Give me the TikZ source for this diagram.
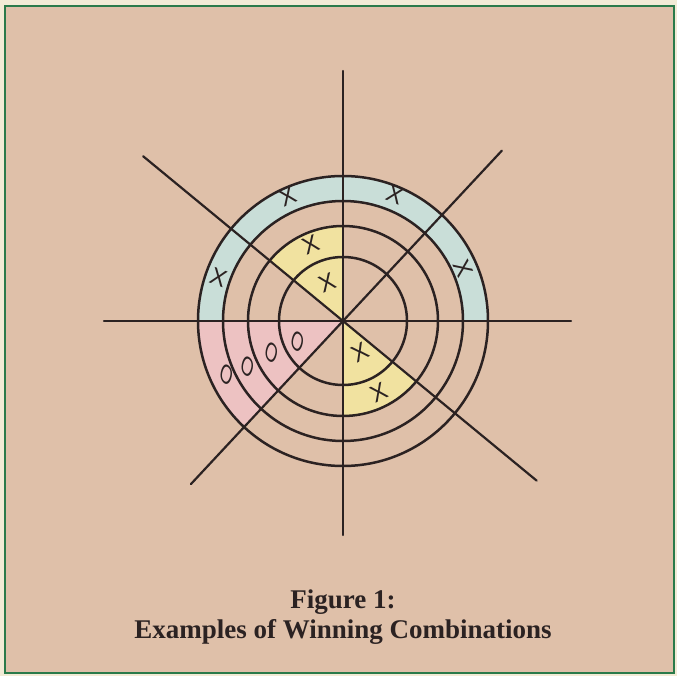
\documentclass[tikz,border=0pt]{standalone}
\usepackage{fontspec}
\setmainfont{Liberation Serif}
\newfontfamily\markfont{Liberation Sans}
\usetikzlibrary{positioning}
\definecolor{boardtan}{HTML}{DFC0A9}
\definecolor{framegreen}{HTML}{2A7A4A}
\definecolor{papercream}{HTML}{F2EBD6}
\definecolor{ringblue}{HTML}{C9DED8}
\definecolor{winyellow}{HTML}{F1E2A0}
\definecolor{winpink}{HTML}{EDC2C2}
\definecolor{inkdark}{HTML}{2B2222}

\begin{document}
\begin{tikzpicture}[
    x=1pt, y=1pt,
    ring/.style={draw=inkdark, line width=2.5pt},
    spoke/.style={draw=inkdark, line width=2.2pt, line cap=round},
    xmark/.style={font=\markfont\fontsize{24}{24}\selectfont, text=inkdark,
                  inner sep=0pt, rotate=#1},
    omark/.style={font=\markfont\fontsize{27}{27}\selectfont, text=inkdark,
                  inner sep=0pt, xscale=0.6, rotate=-30},
    caption/.style={font=\bfseries\fontsize{27}{31}\selectfont, text=inkdark,
                    anchor=base},
  ]
  \fill[papercream] (-343,-355) rectangle (334,321);
  \useasboundingbox (-343,-355) rectangle (334,321);
  \draw[framegreen, line width=2.5pt, fill=boardtan] (-338,315) rectangle (331,-352);

  \coordinate (c) at (0,0);

  % winning cells
  \fill[ringblue] (0:145) arc[start angle=0, end angle=180, radius=145]
    -- (180:120) arc[start angle=180, end angle=0, radius=120] -- cycle;
  \fill[winyellow] (c) -- (90:95) arc[start angle=90, end angle=140.5, radius=95] -- cycle;
  \fill[winyellow] (c) -- (270:95) arc[start angle=270, end angle=320.5, radius=95] -- cycle;
  \fill[winpink] (c) -- (180:145) arc[start angle=180, end angle=227, radius=145] -- cycle;

  \foreach \r in {64, 95, 120, 145}
    \draw[ring] (c) circle[radius=\r];

  % spokes
  \coordinate (n)  at (90:250);
  \coordinate (s)  at (270:214);
  \coordinate (w)  at (180:239);
  \coordinate (e)  at (0:228);
  \coordinate (ne) at (47:233);
  \coordinate (sw) at (227:223);
  \coordinate (nw) at (140.5:259);
  \coordinate (se) at (320.5:251);
  \draw[spoke] (n) -- (s);
  \draw[spoke] (w) -- (e);
  \draw[spoke] (ne) -- (sw);
  \draw[spoke] (nw) -- (se);

  % marks
  \node[xmark=24]  (xb1) at (114:136)  {X};
  \node[xmark=-22] (xb2) at (67.6:136) {X};
  \node[xmark=-20] (xb3) at (160.6:132) {X};
  \node[xmark=-66] (xb4) at (23.8:131) {X};
  \node[xmark=23]  (xu1) at (113:83)   {X};
  \node[xmark=23]  (xu2) at (113:41)   {X};
  \node[xmark=28]  (xl1) at (-62:36)   {X};
  \node[xmark=26]  (xl2) at (-63.4:80) {X};
  \node[omark] (o1) at (205:50)    {O};
  \node[omark] (o2) at (204.3:78)  {O};
  \node[omark] (o3) at (205.8:105.5) {O};
  \node[omark] (o4) at (205:128)   {O};

  \node[caption] (cap1) at (0,-287) {Figure 1:};
  \node[caption] (cap2) at (0,-317) {Examples of Winning Combinations};
\end{tikzpicture}
\end{document}
